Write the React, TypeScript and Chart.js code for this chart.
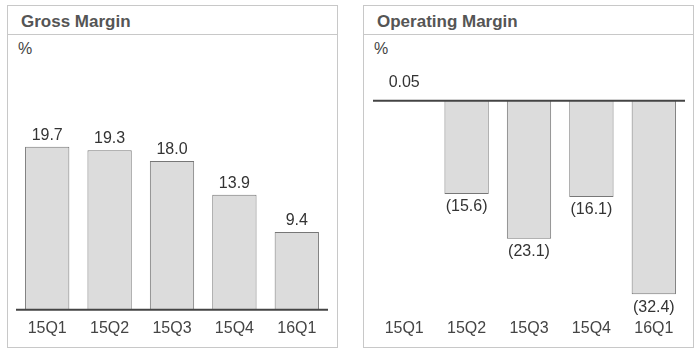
import React, { useEffect, useRef } from "react";
import { Chart, registerables } from "chart.js";

Chart.register(...registerables);

const quarters = ["15Q1", "15Q2", "15Q3", "15Q4", "16Q1"];
const grossMargin = [19.7, 19.3, 18.0, 13.9, 9.4];
const operatingMargin = [0.05, -15.6, -23.1, -16.1, -32.4];

const FONT = '"Liberation Sans", Arial, sans-serif';

function fmt(v: number): string {
  if (v < 0) return "(" + Math.abs(v).toFixed(1) + ")";
  if (Math.abs(v) < 1) return v.toFixed(2);
  return v.toFixed(1);
}

const overlay = {
  id: "overlay",
  afterDatasetsDraw(chart: any, _args: any, opts: any) {
    const { ctx, chartArea, scales } = chart;
    const y0 = scales.y.getPixelForValue(0);
    ctx.save();
    ctx.strokeStyle = "#444";
    ctx.lineWidth = 2;
    ctx.beginPath();
    ctx.moveTo(chartArea.left, y0);
    ctx.lineTo(chartArea.right, y0);
    ctx.stroke();
    const meta = chart.getDatasetMeta(0);
    const data = chart.data.datasets[0].data as number[];
    ctx.font = "16px " + FONT;
    ctx.fillStyle = "#333";
    ctx.textAlign = "center";
    meta.data.forEach((bar: any, i: number) => {
      const v = data[i];
      if (v >= 0) {
        ctx.textBaseline = "alphabetic";
        ctx.fillText(fmt(v), bar.x, bar.y - (opts.posOffset ?? 7));
      } else {
        ctx.textBaseline = "top";
        ctx.fillText(fmt(v), bar.x, bar.y + 5);
      }
    });
    ctx.restore();
  },
};

type PanelProps = {
  left: number;
  title: string;
  values: number[];
  min: number;
  max: number;
  padLeft: number;
  padRight: number;
  padTop: number;
  posOffset: number;
};

function Panel(p: PanelProps) {
  const ref = useRef<HTMLCanvasElement>(null);
  useEffect(() => {
    if (!ref.current) return;
    const chart = new Chart(ref.current, {
      type: "bar",
      data: {
        labels: quarters,
        datasets: [
          {
            data: p.values,
            backgroundColor: "#dcdcdc",
            borderColor: "#777",
            borderWidth: 1,
            barPercentage: 0.71,
            categoryPercentage: 1,
          },
        ],
      },
      options: {
        animation: false,
        responsive: false,
        maintainAspectRatio: false,
        layout: {
          padding: { left: p.padLeft, right: p.padRight, top: p.padTop, bottom: 7 },
        },
        plugins: {
          legend: { display: false },
          tooltip: { enabled: false },
          title: { display: false },
          overlay: { posOffset: p.posOffset },
        } as any,
        scales: {
          x: {
            grid: { display: false },
            border: { display: false },
            ticks: { color: "#444", font: { size: 16, family: FONT }, padding: 1 },
          },
          y: { display: false, min: p.min, max: p.max },
        },
      },
      plugins: [overlay],
    });
    return () => chart.destroy();
  }, []);

  const l = p.left;
  return (
    <>
      <div
        style={{
          position: "absolute",
          left: l,
          top: 5,
          width: 331,
          height: 343,
          border: "1px solid #c8c8c8",
          boxSizing: "border-box",
        }}
      />
      <div style={{ position: "absolute", left: l + 1, top: 34, width: 329, height: 1, background: "#c8c8c8" }} />
      <div
        style={{
          position: "absolute",
          left: l + 14,
          top: 12,
          font: "bold 17px " + FONT,
          lineHeight: "20px",
          color: "#555",
          whiteSpace: "nowrap",
        }}
      >
        {p.title}
      </div>
      <div
        style={{
          position: "absolute",
          left: l + 11,
          top: 39,
          font: "16px " + FONT,
          lineHeight: "20px",
          color: "#444",
        }}
      >
        %
      </div>
      <canvas
        ref={ref}
        width={329}
        height={311}
        style={{ position: "absolute", left: l + 1, top: 35, width: 329, height: 311 }}
      />
    </>
  );
}

export default function App() {
  return (
    <div style={{ position: "fixed", left: 0, top: 0, width: 700, height: 353, background: "#fff" }}>
      <Panel
        left={7}
        title="Gross Margin"
        values={grossMargin}
        min={0}
        max={25}
        padLeft={8}
        padRight={9}
        padTop={68}
        posOffset={7}
      />
      <Panel
        left={363}
        title="Operating Margin"
        values={operatingMargin}
        min={-35}
        max={5}
        padLeft={9}
        padRight={8}
        padTop={36}
        posOffset={14}
      />
    </div>
  );
}
